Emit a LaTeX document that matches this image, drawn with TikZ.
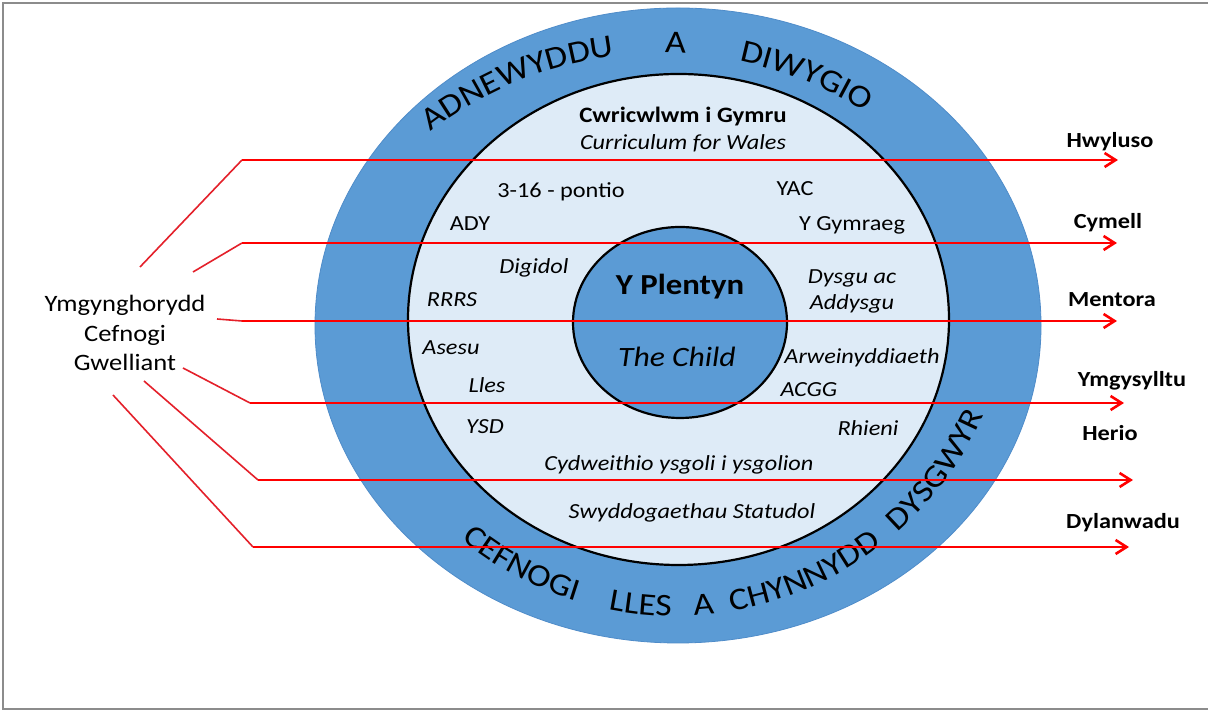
\documentclass[tikz,border=0pt]{standalone}
\usepackage{fontspec}
\setmainfont{Carlito}[FakeStretch=1.13]
\usetikzlibrary{arrows.meta,decorations.text}
\definecolor{bandblue}{HTML}{5B9BD5}
\definecolor{edgeblue}{HTML}{4F8CC9}
\definecolor{paleblue}{HTML}{DEEBF7}
\definecolor{arrowred}{HTML}{FF0000}
\definecolor{fanred}{HTML}{E4202A}
\definecolor{framegray}{HTML}{8C8C8C}
\newcommand{\topfont}{\fontsize{32}{38}\selectfont}
\newcommand{\botfont}{\fontsize{31.5}{38}\selectfont}
\newcommand{\arcword}[5]{%
  \path[decorate,decoration={text along path,text={#5},text align=center},shift={(#1)}]
    (#3:#2) arc[start angle=#3,end angle=#4,radius=#2];}
\tikzset{
  intext/.style={inner sep=0pt,font=\fontsize{21.5}{26}\selectfont},
  initext/.style={inner sep=0pt,font=\fontsize{21.5}{26}\selectfont\itshape},
  rlabel/.style={inner sep=0pt,font=\fontsize{21.5}{26}\selectfont\bfseries},
  fan/.style={draw=fanred,line width=1.6pt},
  harrow/.style={draw=arrowred,line width=2.6pt,-{Straight Barb[length=11pt,width=14pt]}},
}
\begin{document}
\begin{tikzpicture}[x=1pt,y=1pt]
\useasboundingbox (0,0) rectangle (1208,711);
\fill[white] (0,0) rectangle (1208,711);
\draw[framegray,line width=1.5pt] (3,2) rectangle (1220,708);

% rings
\filldraw[fill=bandblue,draw=edgeblue,line width=0.8pt] (678,385.5) ellipse [x radius=363,y radius=317.5];
\filldraw[fill=paleblue,draw=black,line width=2.2pt] (678.5,391.5) ellipse [x radius=270.5,y radius=245.5];
\filldraw[fill=bandblue,draw=black,line width=2.2pt] (680,388.5) ellipse [x radius=107,y radius=95.5];

% inner texts
\node[intext,font=\fontsize{22}{26}\selectfont\bfseries] (cwr) at (683,594) {Cwricwlwm i Gymru};
\node[initext] (cfw) at (683,568) {Curriculum for Wales};
\node[intext] (pontio) at (561,519) {3-16 - pontio};
\node[intext] (yac) at (795,522) {YAC};
\node[intext] (ady) at (470,487) {ADY};
\node[intext] (gymraeg) at (852,486) {Y Gymraeg};
\node[initext] (digidol) at (534,443) {Digidol};
\node[initext,align=center] (dysgu) at (852,420) {Dysgu ac\\Addysgu};
\node[initext] (rrrs) at (452,411) {RRRS};
\node[initext] (asesu) at (451,363) {Asesu};
\node[initext] (arwein) at (862,353) {Arweinyddiaeth};
\node[initext] (lles) at (487,326) {Lles};
\node[initext] (acgg) at (809,321) {ACGG};
\node[initext] (ysd) at (485,284) {YSD};
\node[initext] (rhieni) at (868,283) {Rhieni};
\node[initext] (cydw) at (679,246) {Cydweithio ysgoli i ysgolion};
\node[initext] (swydd) at (692,198) {Swyddogaethau Statudol};
\node[inner sep=0pt,font=\fontsize{29}{34}\selectfont\bfseries] (plentyn) at (680,424) {Y Plentyn};
\node[inner sep=0pt,font=\fontsize{28}{34}\selectfont\itshape] (child) at (677,354) {The Child};

% curved band texts
\arcword{662,279}{379}{137.4}{87.4}{|\topfont|ADNEWYDDU}
\arcword{662,279}{379}{100}{76}{|\topfont|A}
\arcword{662,279}{379}{90}{45.8}{|\topfont|DIWYGIO}
\arcword{675,432}{337}{219.8}{263.8}{|\botfont|CEFNOGI}
\arcword{675,432}{337}{249}{279}{|\botfont|LLES}
\arcword{675,432}{337}{263}{287}{|\botfont|A}
\arcword{675,432}{337}{271.8}{315.8}{|\botfont|CHYNNYDD}
\arcword{675,432}{337}{301.8}{345.8}{|\botfont|DYSGWYR}

% left label
\node[inner sep=0pt,align=center,font=\fontsize{23.5}{29.5}\selectfont] (adv) at (125,378) {Ymgynghorydd\\Cefnogi\\Gwelliant};

% connector points
\coordinate (f1) at (140,444); \coordinate (b1) at (242,551); \coordinate (e1) at (1118,551);
\coordinate (f2) at (193,439); \coordinate (b2) at (242,468); \coordinate (e2) at (1117,468);
\coordinate (f3) at (217,392); \coordinate (b3) at (242,390); \coordinate (e3) at (1117,390);
\coordinate (f4) at (183,343); \coordinate (b4) at (250,308); \coordinate (e4) at (1124,308);
\coordinate (f5) at (144,330); \coordinate (b5) at (258,231); \coordinate (e5) at (1133,231);
\coordinate (f6) at (113,316); \coordinate (b6) at (253,164); \coordinate (e6) at (1129,164);

\foreach \i in {1,...,6}{
  \draw[fan] (f\i) -- (b\i);
  \draw[harrow] (b\i) -- (e\i);
}

% right labels
\node[rlabel] (hwyluso) at (1110,569) {Hwyluso};
\node[rlabel] (cymell) at (1108,488) {Cymell};
\node[rlabel] (mentora) at (1112,411) {Mentora};
\node[rlabel] (ymgys) at (1132,330) {Ymgysylltu};
\node[rlabel] (herio) at (1110,278) {Herio};
\node[rlabel] (dylan) at (1123,188) {Dylanwadu};
\end{tikzpicture}
\end{document}
